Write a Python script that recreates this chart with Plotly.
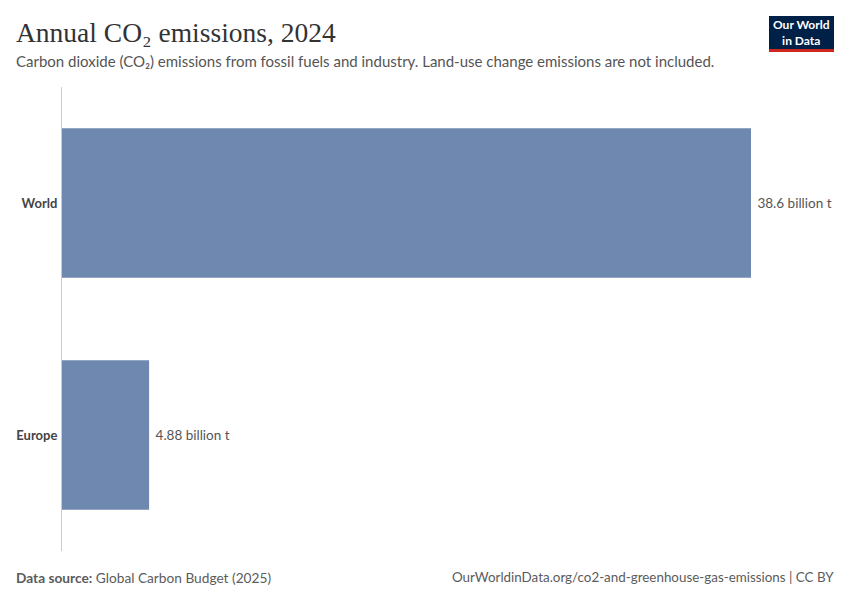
import plotly.graph_objects as go

entities = ["World", "Europe"]
values = [38.6, 4.88]
value_labels = ["38.6 billion t", "4.88 billion t"]

fig = go.Figure()
fig.add_trace(go.Bar(
    x=values, y=entities, orientation="h",
    marker=dict(color="#6f88b0", line=dict(width=0)),
    width=0.645,
    text=["\u00a0" + t for t in value_labels], textposition="outside",
    textfont=dict(family="Lato", size=13.5, color="#555555"),
    cliponaxis=False, hoverinfo="skip",
))

fig.update_layout(
    width=850, height=600,
    margin=dict(l=62, r=99, t=87, b=49),
    paper_bgcolor="white", plot_bgcolor="white",
    showlegend=False,
    xaxis=dict(range=[0, 38.6], showgrid=False, zeroline=False,
               showticklabels=False, showline=False, fixedrange=True),
    yaxis=dict(autorange="reversed", showgrid=False, zeroline=False,
               showline=True, linecolor="#cccccc", linewidth=1,
               ticks="", ticklabelstandoff=1,
               tickfont=dict(family="Lato", size=13, color="#444444", weight="bold")),
    font=dict(family="Lato"),
)

PW, PH = 689, 464
def px(x):
    return (x - 62) / PW
def py(y):
    return 1 + (87 - y) / PH

fig.add_annotation(xref="paper", yref="paper", x=px(14), y=py(33),
                   xanchor="left", yanchor="middle", showarrow=False,
                   text="Annual CO₂ emissions, 2024",
                   font=dict(family="Liberation Serif", size=27.5, color="#333333"))
fig.add_annotation(xref="paper", yref="paper", x=px(14), y=py(61),
                   xanchor="left", yanchor="middle", showarrow=False,
                   text="Carbon dioxide (CO₂) emissions from fossil fuels and industry. Land-use change emissions are not included.",
                   font=dict(family="Lato", size=15, color="#555555"))
fig.add_annotation(xref="paper", yref="paper", x=px(14), y=py(577),
                   xanchor="left", yanchor="middle", showarrow=False,
                   text="<b>Data source:</b> Global Carbon Budget (2025)",
                   font=dict(family="Lato", size=13.7, color="#5b5b5b"))
fig.add_annotation(xref="paper", yref="paper", x=px(836), y=py(577),
                   xanchor="right", yanchor="middle", showarrow=False,
                   text="OurWorldinData.org/co2-and-greenhouse-gas-emissions | CC BY",
                   font=dict(family="Lato", size=13.4, color="#5b5b5b"))

# Logo
fig.add_shape(type="rect", xref="paper", yref="paper",
              x0=px(769), x1=px(834), y0=py(49), y1=py(16),
              fillcolor="#002147", line=dict(width=0), layer="above")
fig.add_shape(type="rect", xref="paper", yref="paper",
              x0=px(769), x1=px(834), y0=py(52), y1=py(49),
              fillcolor="#ce261e", line=dict(width=0), layer="above")
fig.add_annotation(xref="paper", yref="paper", x=px(801.5), y=py(32.5),
                   xanchor="center", yanchor="middle", showarrow=False,
                   text="<b>Our World<br>in Data</b>", align="center",
                   font=dict(family="Lato", size=12, color="white"))

fig.write_html("out.html", config={"displayModeBar": False},
               post_script="document.body.style.margin='0';")
